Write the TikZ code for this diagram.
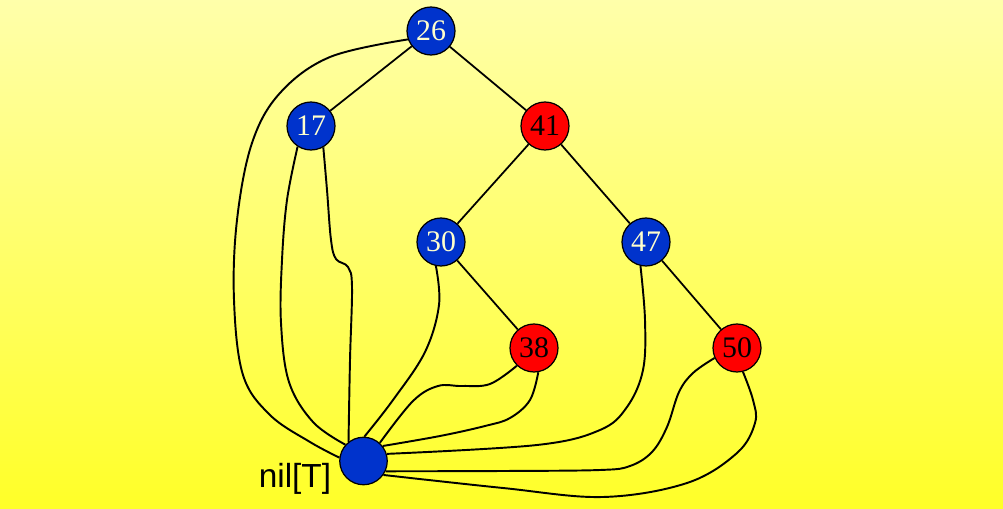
\documentclass[tikz,border=0pt]{standalone}
\usepackage{fontspec}
\setmainfont{Liberation Serif}
\newfontfamily\labelfont{Liberation Sans}
\definecolor{bgtop}{RGB}{255,255,170}
\definecolor{bgbot}{RGB}{255,255,40}
\definecolor{nblue}{RGB}{0,51,204}
\definecolor{nred}{RGB}{255,0,0}
\definecolor{ntext}{RGB}{255,255,204}
\pgfdeclarelayer{bg}
\pgfdeclarelayer{edges}
\pgfsetlayers{bg,edges,main}
\begin{document}
\begin{tikzpicture}[x=0.02cm,y=-0.02cm,
  rbnode/.style={circle,draw=black,line width=0.7pt,minimum size=0.96cm,inner sep=0pt,font=\fontsize{17}{17}\selectfont},
  bnode/.style={rbnode,fill=nblue,text=ntext},
  rnode/.style={rbnode,fill=nred,text=black},
  nilnode/.style={circle,draw=black,line width=0.7pt,minimum size=0.95cm,inner sep=0pt,fill=nblue},
  edge/.style={line width=1pt,black},
  nilcurve/.style={line width=1.1pt,black,smooth,tension=0.6}]
\useasboundingbox (0,0) rectangle (1003,509);

\node[bnode] (n26) at (431,31) {26};
\node[bnode] (n17) at (311,126) {17};
\node[rnode] (n41) at (545,126) {41};
\node[bnode] (n30) at (441,242) {30};
\node[bnode] (n47) at (646,242) {47};
\node[rnode] (n38) at (534,348) {38};
\node[rnode] (n50) at (737,348) {50};
\node[nilnode] (nil) at (363.5,461) {};
\node[font=\labelfont\fontsize{19}{19}\selectfont,anchor=base] (nillabel) at (295,487) {nil[T]};

\begin{pgfonlayer}{bg}
\shade[top color=bgtop,bottom color=bgbot] (0,0) rectangle (1003,509);
\end{pgfonlayer}

\begin{pgfonlayer}{edges}
\draw[edge] (n26) -- (n17);
\draw[edge] (n26) -- (n41);
\draw[edge] (n41) -- (n30);
\draw[edge] (n41) -- (n47);
\draw[edge] (n30) -- (n38);
\draw[edge] (n47) -- (n50);

% parent of root
\draw[nilcurve] plot coordinates {(n26.200) (330,57) (280,93) (252,143) (237,220) (234,300) (243,375) (270,415) (310,442) (nil.172)};
% 17
\draw[nilcurve] plot coordinates {(n17.237) (287,200) (282,260) (281,323) (289,382) (313,422) (nil.138)};
\draw[nilcurve] plot coordinates {(n17.300) (327,190) (331,240) (336,259) (348,267) (352,287) (350,360) (nil.128)};
% 30
\draw[nilcurve] plot coordinates {(n30.258) (439,305) (425,352) (393,400) (nil.88)};
% 38
\draw[nilcurve] plot coordinates {(n38.226) (490,384) (462,386) (438,386) (413,401) (nil.48)};
\draw[nilcurve] plot coordinates {(n38.280) (530,400) (510,418) (485,426) (440,436) (nil.38)};
% 47
\draw[nilcurve] plot coordinates {(n47.257) (645,320) (643,370) (627,407) (600,430) (537,445) (nil.17)};
% 50
\draw[nilcurve] plot coordinates {(n50.204) (693,373) (679,392) (667,427) (652,452) (630,466) (600,470) (503,471) (nil.-25)};
\draw[nilcurve] plot coordinates {(n50.284) (753,400) (755,423) (737,453) (687,483) (603,497) (503,488) (nil.-35)};
\end{pgfonlayer}
\end{tikzpicture}
\end{document}
